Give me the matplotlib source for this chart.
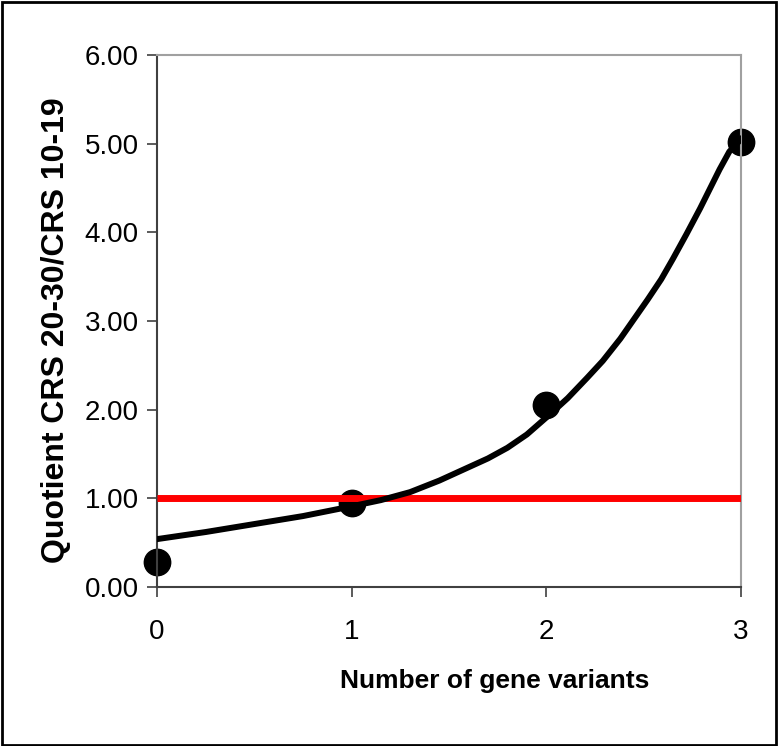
import numpy as np
import matplotlib.pyplot as plt
from matplotlib.patches import Rectangle

plt.rcParams['font.family'] = ['Liberation Sans', 'DejaVu Sans']

# observed quotients per number of gene variants
variants = [0, 1, 2, 3]
quotient = [0.28, 0.95, 2.05, 5.02]

# fitted curve
curve_x = [0.0, 0.25, 0.5, 0.75, 1.0, 1.15, 1.3, 1.45, 1.59, 1.7, 1.8, 1.9, 2.02,
           2.11, 2.21, 2.29, 2.38, 2.45, 2.52, 2.59, 2.65, 2.72, 2.79, 2.84, 2.89,
           2.94, 3.0]
curve_y = [0.54, 0.62, 0.71, 0.80, 0.91, 0.98, 1.07, 1.20, 1.34, 1.45, 1.57, 1.72, 1.95,
           2.13, 2.36, 2.55, 2.80, 3.02, 3.24, 3.47, 3.70, 3.98, 4.27, 4.49, 4.71,
           4.91, 5.05]

reference = 1.0
yticks = [0, 1, 2, 3, 4, 5, 6]

fig = plt.figure(figsize=(7.78, 7.46), dpi=100)
ax = fig.add_axes([157/778, 1 - 587/746, (741 - 157)/778, (587 - 55)/746])

ax.plot(variants, quotient, 'o', color='black', markersize=19, zorder=2, clip_on=False)
ax.plot([0, 3], [reference, reference], color='#ff0000', linewidth=5, zorder=3,
        solid_capstyle='butt')
ax.plot(curve_x, curve_y, color='black', linewidth=4.3, zorder=4,
        solid_joinstyle='round')

ax.set_xlim(0, 3)
ax.set_ylim(0, 6)
ax.set_xticks(variants)
ax.set_yticks(yticks)
ax.set_yticklabels(['%.2f' % v for v in yticks])
ax.tick_params(direction='out', length=7, width=1.2, colors='#404040',
               labelcolor='black', labelsize=20, pad=6)
ax.tick_params(axis='x', pad=16)

for side in ['left', 'bottom']:
    ax.spines[side].set_color('#404040')
    ax.spines[side].set_linewidth(1.5)
for side in ['top', 'right']:
    ax.spines[side].set_color('#a0a0a0')
    ax.spines[side].set_linewidth(1.5)

ax.set_xlabel('Number of gene variants', fontsize=19, fontweight='bold', labelpad=20)
ax.xaxis.set_label_coords(0.578, -0.155)
ax.set_ylabel('Quotient CRS 20-30/CRS 10-19', fontsize=23, fontweight='bold')
ax.yaxis.set_label_coords(-0.147, 0.483)

fig.patches.append(Rectangle((0.002, 0.002), 0.995, 0.995, transform=fig.transFigure,
                             fill=False, edgecolor='black', linewidth=2))

fig.savefig('out.png', dpi=100)
